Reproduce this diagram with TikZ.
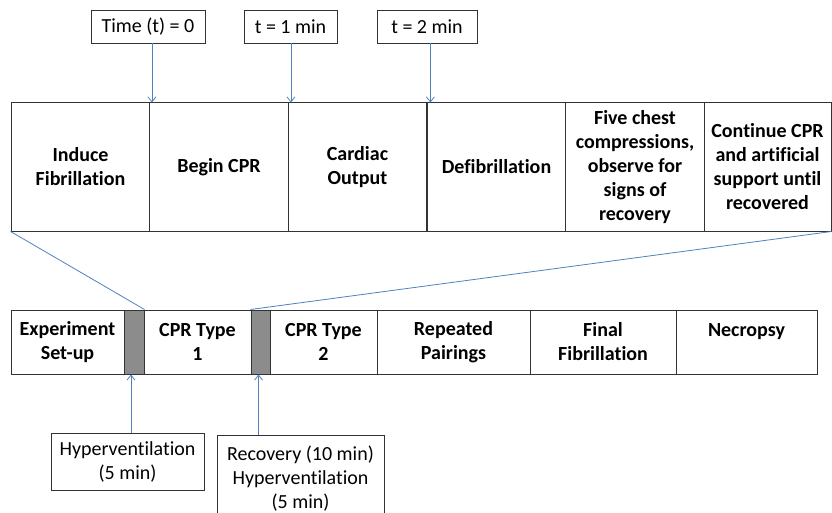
\documentclass[tikz,border=0pt]{standalone}
\usepackage{fontspec}
\setmainfont{Carlito}[Ligatures=NoCommon]
\usetikzlibrary{arrows.meta}
\definecolor{lineblue}{RGB}{79,129,189}
\definecolor{padgray}{RGB}{140,140,140}

\begin{document}
\begin{tikzpicture}[x=1pt,y=-1pt,
    cell/.style={draw=black!80,line width=1pt,inner sep=0pt,align=center,
      font=\fontsize{20}{24}\selectfont\bfseries},
    tcell/.style={cell,minimum height=128pt,minimum width=138.8pt},
    bcell/.style={cell,minimum height=64pt},
    pad/.style={bcell,fill=padgray},
    lbl/.style={draw=black!80,line width=0.9pt,inner sep=0pt,align=center,
      font=\fontsize{20}{24}\selectfont},
    link/.style={lineblue,line width=0.8pt},
    tip/.style={link,-{Straight Barb[length=5pt,width=8pt]}}]
    \useasboundingbox (0,0) rectangle (832,513);
    % time stamps
    \node[lbl,minimum width=114pt,minimum height=33pt] (tzero) at (148,26.5) {Time (t) = 0};
    \node[lbl,minimum width=93pt,minimum height=33pt] (tone) at (290.5,26.5) {t = 1 min};
    \node[lbl,minimum width=100pt,minimum height=33pt] (ttwo) at (427,26.5) {t = 2 min};
    % one CPR trial
    \node[tcell] (induce) at (80.5,167) {Induce\\Fibrillation};
    \node[tcell] (begin) at (219,167) {Begin CPR};
    \node[tcell] (output) at (357.5,167) {Cardiac\\Output};
    \node[tcell] (defib) at (496.5,167) {Defibrillation};
    \node[tcell] (chest) at (635,167) {Five chest\\compressions,\\observe for\\signs of\\recovery};
    \node[tcell,minimum width=127pt] (cont) at (767.5,167) {Continue CPR\\and artificial\\support until\\recovered};
    \draw[tip] ([xshift=1.5pt]induce.north east |- tzero.south) -- ([xshift=1.5pt]induce.north east);
    \draw[tip] ([xshift=2pt]begin.north east |- tone.south) -- ([xshift=2pt]begin.north east);
    \draw[tip] ([xshift=3pt]output.north east |- ttwo.south) -- ([xshift=3pt]output.north east);
    % whole experiment
    \node[bcell,minimum width=113pt] (setup) at (67.5,342) {Experiment\\Set-up};
    \node[pad,minimum width=20pt] (gapone) at (134,342) {};
    \node[bcell,minimum width=107pt] (typeone) at (197.5,342) {CPR Type\\1};
    \node[pad,minimum width=19pt] (gaptwo) at (260.5,342) {};
    \node[bcell,minimum width=107pt] (typetwo) at (323.5,342) {CPR Type\\2};
    \node[bcell,minimum width=153pt] (pair) at (453.5,342) {Repeated\\Pairings};
    \node[bcell,minimum width=146pt] (final) at (603,342) {Final\\Fibrillation};
    \node[bcell,minimum width=141pt] (necro) at (746.5,342) {Necropsy\\\mbox{}};
    \draw[link] (induce.south west) -- (gapone.north east);
    \draw[link] (cont.south east) -- (gaptwo.north west);
    % breaks
    \node[lbl,minimum width=153pt,minimum height=57pt] (hyper) at (127.5,461.5) {Hyperventilation\\(5 min)};
    \node[lbl,anchor=north,minimum width=167pt,minimum height=96pt] (recov) at (300.5,435) {Recovery (10 min)\\Hyperventilation\\(5 min)\\[-12pt]\mbox{}};
    \draw[tip] ([xshift=-3pt]gapone.south |- hyper.north) -- ([xshift=-3pt]gapone.south);
    \draw[tip] ([xshift=-2pt]gaptwo.south |- recov.north) -- ([xshift=-2pt]gaptwo.south);
\end{tikzpicture}
\end{document}
